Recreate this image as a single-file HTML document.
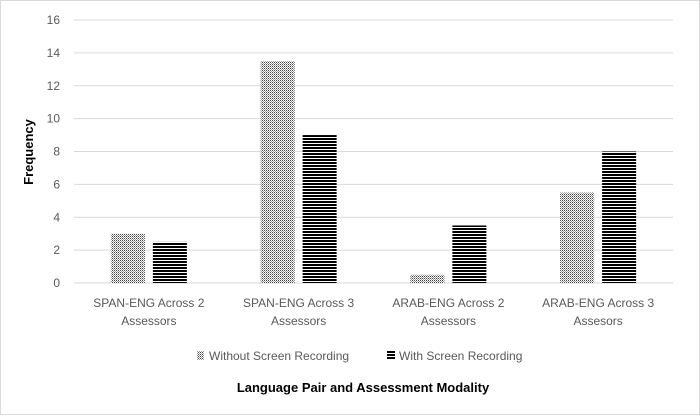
<!DOCTYPE html>
<html><head><meta charset="utf-8"><style>
body{margin:0;background:#fff;font-family:"Liberation Sans",sans-serif}
</style></head><body>
<svg width="700" height="415" xmlns="http://www.w3.org/2000/svg">
<defs>
<pattern id="dots" width="2" height="2" patternUnits="userSpaceOnUse"><rect width="2" height="2" fill="#fff"/><rect x="0" y="0" width="1" height="1" fill="#444"/><rect x="1" y="1" width="1" height="1" fill="#999"/></pattern>
<pattern id="stripes" width="3" height="3" patternUnits="userSpaceOnUse"><rect width="3" height="3" fill="#fff"/><rect y="0" width="3" height="2" fill="#000"/></pattern>
</defs>
<rect x="0.5" y="0.5" width="699" height="414" fill="#fff" stroke="#d9d9d9"/>
<g id="grid"></g><g id="bars"></g><g id="labels"></g>
<text x="33" y="152" transform="rotate(-90 33 152)" text-anchor="middle" font-size="13" font-weight="bold" fill="#000">Frequency</text>
<g>
<rect x="197" y="351" width="7" height="9" fill="url(#dots)"/>
<text x="209" y="360" font-size="12" fill="#595959">Without Screen Recording</text>
<rect x="387" y="351" width="8" height="9" fill="url(#stripes)"/>
<text x="399" y="360" font-size="12" fill="#595959">With Screen Recording</text>
</g>
<text x="363" y="392" text-anchor="middle" font-size="13" font-weight="bold" fill="#000">Language Pair and Assessment Modality</text>
</svg>
<script>
const categories1 = ["SPAN-ENG Across 2","SPAN-ENG Across 3","ARAB-ENG Across 2","ARAB-ENG Across 3"];
const categories2 = ["Assessors","Assessors","Assessors","Assesors"];
const withoutValues = [3,13.5,0.5,5.5];
const withValues = [2.5,9,3.5,8];
const yTicks = [0,2,4,6,8,10,12,14,16];
const NS="http://www.w3.org/2000/svg";
const left=74,right=673,y0=283,yTop=20,yMax=16;
const y=v=>y0-(y0-yTop)*v/yMax;
const band=(right-left)/categories1.length;
const cx=i=>left+band*(i+0.5);
function mk(tag,attrs,parent){const e=document.createElementNS(NS,tag);for(const k in attrs)e.setAttribute(k,attrs[k]);document.getElementById(parent).appendChild(e);return e;}
yTicks.forEach(t=>{
  const l=mk('line',{x1:left,x2:right,y1:y(t),y2:y(t),stroke:'#d9d9d9','stroke-width':1},'grid');
  
  
  const tx=mk('text',{x:60,y:y(t)+4,'text-anchor':'end','font-size':12,fill:'#595959'},'labels');
  tx.textContent=t;
  
  
});
categories1.forEach((c,i)=>{
  const b1=mk('rect',{x:cx(i)-38,y:y(withoutValues[i]),width:34,height:y0-y(withoutValues[i]),fill:'url(#dots)'},'bars');
  
  
  const b2=mk('rect',{x:cx(i)+4,y:y(withValues[i]),width:34,height:y0-y(withValues[i]),fill:'url(#stripes)'},'bars');
  
  
  const t1=mk('text',{x:cx(i),y:307,'text-anchor':'middle','font-size':12,fill:'#595959'},'labels');
  t1.textContent=c;
  
  
  const t2=mk('text',{x:cx(i),y:325,'text-anchor':'middle','font-size':12,fill:'#595959'},'labels');
  t2.textContent=categories2[i];
  
  
});
</script>
</body></html>
